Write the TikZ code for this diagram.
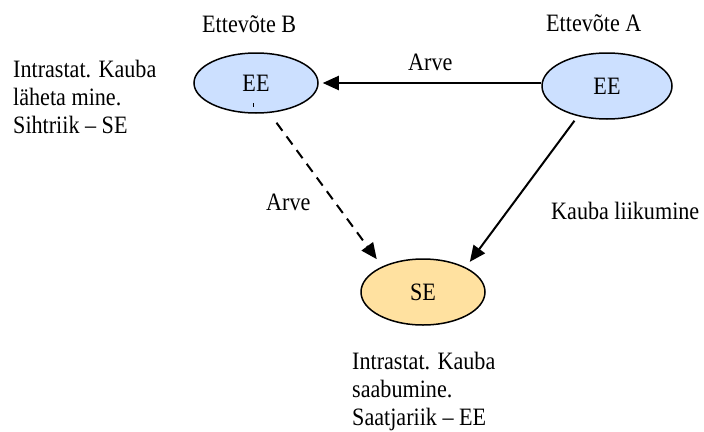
\documentclass[tikz,border=0pt]{standalone}
\usepackage{fontspec}
\setmainfont{Liberation Serif}[FakeStretch=0.885]
\usetikzlibrary{arrows.meta,shapes.geometric}
\definecolor{eeblue}{HTML}{CCE0FF}
\definecolor{seorange}{HTML}{FFE1A0}
\tikzset{
  lbl/.style={inner sep=0pt,anchor=base west,font=\fontsize{25}{28}\selectfont},
  oval/.style={ellipse,draw=black,line width=1.5pt,inner sep=0pt,font=\fontsize{25}{28}\selectfont},
  conn/.style={line width=2pt,-{Triangle[length=16pt,width=14pt]}},
}
\begin{document}
\begin{tikzpicture}[x=1pt,y=-1pt]
\useasboundingbox (0,0) rectangle (704,431);
\node[oval,fill=eeblue,minimum width=124pt,minimum height=60pt] (B) at (256,83) {EE};
\node[oval,fill=eeblue,minimum width=130pt,minimum height=66pt] (A) at (607,86) {EE};
\node[oval,fill=seorange,minimum width=124pt,minimum height=66pt] (S) at (423,292) {SE};
\coordinate (tick) at (253,103);
\draw[line width=0.8pt] (tick) -- ++(0,4);
\node[lbl] (lB) at (202,32) {Ettevõte B};
\node[lbl] (lA) at (546,31) {Ettevõte A};
\node[lbl] (l1) at (13,77) {Intrastat. Kauba};
\node[lbl] (l2) at (13,105) {läheta mine.};
\node[lbl] (l3) at (13,133) {Sihtriik – SE};
\node[lbl] (b1) at (352,369) {Intrastat. Kauba};
\node[lbl] (b2) at (352,397.5) {saabumine.};
\node[lbl] (b3) at (352,425.5) {Saatjariik – EE};
\node[lbl] (arv1) at (408,70) {Arve};
\node[lbl] (arv2) at (266,210) {Arve};
\node[lbl] (kl) at (551,219) {Kauba liikumine};
\draw[conn,shorten >=4pt] (A.west |- B.east) -- (B.east);
\draw[conn,dash pattern=on 10pt off 7pt,shorten <=12pt,shorten >=9pt] (B.-66) -- (S.148.6);
\draw[conn,shorten <=5.6pt,shorten >=6.8pt] (A.-134) -- (S.30);
\end{tikzpicture}
\end{document}
